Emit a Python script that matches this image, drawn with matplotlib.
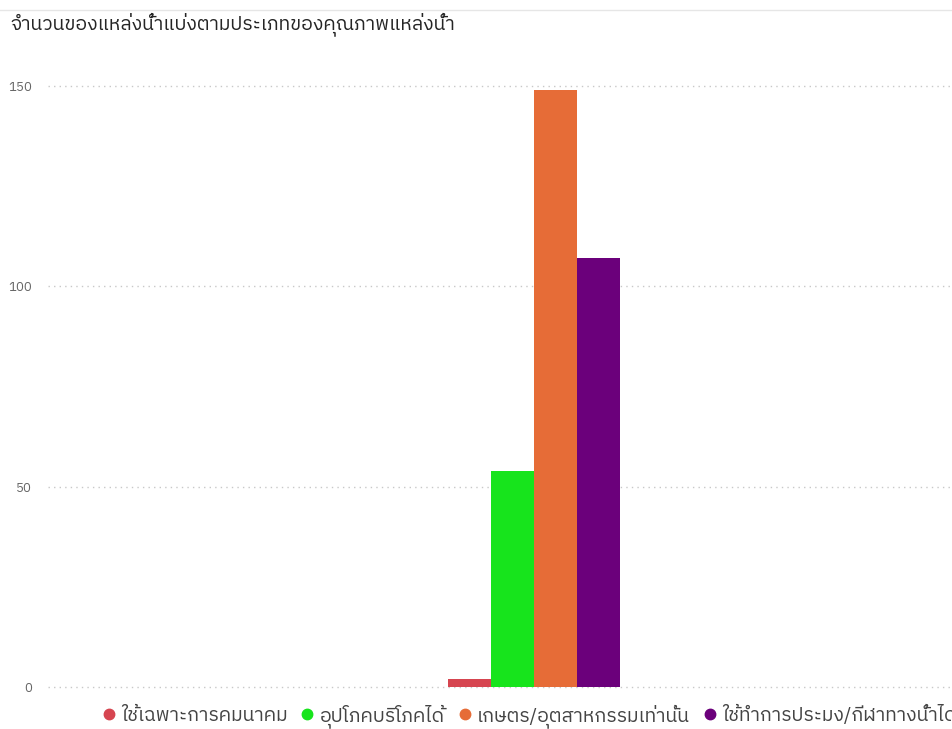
import matplotlib
matplotlib.use("Agg")
import matplotlib.pyplot as plt
from matplotlib.lines import Line2D

title = "จำนวนของแหล่งน้ำแบ่งตามประเภทของคุณภาพแหล่งน้ำ"
categories = ["ใช้เฉพาะการคมนาคม", "อุปโภคบริโภคได้", "เกษตร/อุตสาหกรรมเท่านั้น", "ใช้ทำการประมง/กีฬาทางน้ำได้"]
values = [2, 54, 149, 107]
colors = ["#D64550", "#17E41C", "#E66C37", "#6B007B"]
yticks = [0, 50, 100, 150]

plt.rcParams['font.family'] = ['IBM Plex Sans Thai', 'DejaVu Sans']

fig = plt.figure(figsize=(9.52, 7.29), dpi=100)
ax = fig.add_axes([48 / 952, (729 - 690) / 729, 1 - 48 / 952, (690 - 70) / 729])

n = len(values)
xs = [i - (n - 1) / 2 for i in range(n)]
ax.bar(xs, values, width=1.0, color=colors, zorder=2)

ax.set_xlim(-11.3, 9.72)
ax.set_ylim(-0.75, 154)
ax.set_yticks(yticks)
ax.set_xticks([])
ax.yaxis.grid(True, linestyle=(0, (1, 3)), color="#c8c8c8", linewidth=1, zorder=0)
for s in ax.spines.values():
    s.set_visible(False)
ax.tick_params(axis="y", length=0, pad=11.5, labelsize=9.5, labelcolor="#666666")

fig.text(10 / 952, 1 - 24 / 729, title, fontsize=14, color="#252525", va="center", ha="left")
fig.add_artist(Line2D([0, 1], [1 - 10 / 729, 1 - 10 / 729], color="#e6e6e6", lw=1))

handles = [Line2D([], [], marker="o", linestyle="none", markersize=7.5, color=c) for c in colors]
fig.legend(handles, categories, loc="center left", bbox_to_anchor=(101 / 952, 1 - 716 / 729),
           ncol=4, frameon=False, handlelength=0.8, handletextpad=0.25, columnspacing=0.6,
           fontsize=14, labelcolor="#444444", borderaxespad=0, borderpad=0)

fig.savefig("out.png", dpi=100)
